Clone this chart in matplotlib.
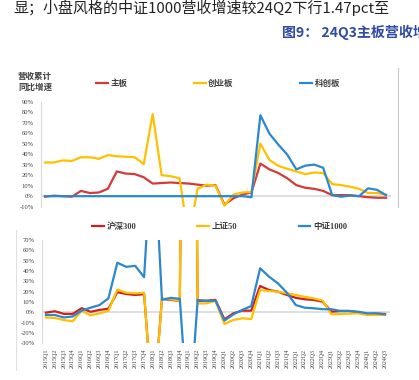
import matplotlib
matplotlib.use("Agg")
import matplotlib.pyplot as plt
from matplotlib.lines import Line2D

plt.rcParams['font.family'] = ['Noto Sans CJK SC', 'DejaVu Sans']

W, H = 419, 380

quarters = [
    "2015Q1", "2015Q2", "2015Q3", "2015Q4", "2016Q1", "2016Q2", "2016Q3", "2016Q4",
    "2017Q1", "2017Q2", "2017Q3", "2017Q4", "2018Q1", "2018Q2", "2018Q3", "2018Q4",
    "2019Q1", "2019Q2", "2019Q3", "2019Q4", "2020Q1", "2020Q2", "2020Q3", "2020Q4",
    "2021Q1", "2021Q2", "2021Q3", "2021Q4", "2022Q1", "2022Q2", "2022Q3", "2022Q4",
    "2023Q1", "2023Q2", "2023Q3", "2023Q4", "2024Q1", "2024Q2", "2024Q3",
]

# 上图：板块营收累计同比（%）
main_board = [-0.5, 0.5, 0, -0.5, 5, 3, 3.5, 7, 23.5, 21.5, 21, 18, 12, 12.5, 13, 12.5,
              12, 11, 10, 10.5, -8, -2, 1.5, 3.5, 31, 25.5, 22, 17, 10.5, 8, 7, 5,
              1, 1, 1, 0, -1, -1.5, -1.5]
gem_board = [32, 32, 34, 33.5, 37, 37, 35.5, 39, 38, 37.5, 37, 30.5, 78, 20, 19, 17,
             -40, 7, 11, 10, -9, 1.5, 3.5, 4, 50, 34.5, 28.8, 26, 23.5, 21, 22.5, 22,
             11.5, 10.5, 9, 7, 3, 3, 1.5]
star_board = [0, 0, 0, 0, 0, 0, 0, 0, 0, 0, 0, 0, 0, 0, 0, 0,
              0, 0, 0, 0, 0, 0, 0, -1, 77, 59.5, 49, 39.5, 25.5, 29, 30, 27,
              1, -0.5, 0.5, 0, 7.5, 6, 1]

# 下图：指数成分营收累计同比（%）
hs300 = [-0.3, 1, -1.5, -1.5, 4, 0.5, 2.3, 3.5, 19.5, 17.7, 16.8, 17.5, -95, 13, 12, 11,
         900, 11, 11.3, 12, -6.8, -1, 1.6, 1.6, 25.5, 21.6, 20, 16.8, 14, 12.6, 12, 10.3,
         0.6, 1.3, 1.3, 0, -1.6, -1.3, -1.6]
sz50 = [-5, -5.5, -7.5, -8.7, 1.6, -3, -1, 1.5, 22, 19, 18.4, 19, -100, 13.5, 12.6, 11,
        1000, 8.5, 8.7, 11, -11.3, -7.4, -5.8, -6.5, 21.6, 20.6, 20, 18.4, 16.8, 15, 13.5, 11.3,
        -2, -1.6, -1.3, -1, -2.6, -2.6, -2.6]
zz1000 = [-2.6, -2.6, -5, -4, 1.6, 4.5, 7, 13.5, 48, 44, 45, 34, 180, 12, 14, 13,
          -110, 12, 11, 11.3, -8, -2, 2.3, 6, 42.6, 34.5, 28, 19, 7, 4.5, 3.9, 3,
          3, 1.3, 1.3, 0.6, -1, -1, -2]

top_labels = ["主板", "创业板", "科创板"]
bottom_labels = ["沪深300", "上证50", "中证1000"]

RED = "#D43A3A"
RED2 = "#D01F1F"
YEL = "#FFC000"
BLUE = "#2B88CF"
GRID = "#D9D9D9"
TXT = "#404040"
serif = ['Liberation Serif', 'Noto Sans CJK SC']


def px(v):
    return v * 0.72


fig = plt.figure(figsize=(W / 100, H / 100), dpi=100)

fig.text(13 / W, 1 - 8 / H, "显；小盘风格的中证1000营收增速较24Q2下行1.47pct至",
         fontsize=px(15), color="#222222", va="center", ha="left")
fig.text(282 / W, 1 - 32 / H, "图9： 24Q3主板营收增",
         fontsize=px(14), color="#2F4BA5", fontweight="bold", va="center", ha="left")

x = list(range(len(quarters)))


def style_axes(ax, ymin, ymax):
    ax.set_xlim(-0.5, len(quarters) - 0.5)
    ax.set_ylim(ymin, ymax)
    for s in ["top", "right", "bottom"]:
        ax.spines[s].set_visible(False)
    ax.spines["left"].set_color(GRID)
    ax.spines["left"].set_linewidth(0.8)
    ax.axhline(0, color=GRID, lw=1.2, zorder=1)
    ax.set_yticks(range(ymin, ymax + 1, 10))
    ax.set_yticklabels([f"{t}%" for t in range(ymin, ymax + 1, 10)],
                       fontsize=px(6.5), family=serif, color=TXT)
    ax.tick_params(axis="y", length=0, pad=5)
    ax.set_facecolor("none")


# 上图
ax1 = fig.add_axes([40.5 / W, (H - 206.7) / H, 350 / W, 105.2 / H])
style_axes(ax1, -10, 90)
ax1.set_xticks([])
l1, = ax1.plot(x, main_board, color=RED, lw=1.6, zorder=2)
l2, = ax1.plot(x, gem_board, color=YEL, lw=1.6, zorder=3)
l3, = ax1.plot(x, star_board, color=BLUE, lw=1.6, zorder=4)

fig.text(18 / W, 1 - 76 / H, "营收累计", fontsize=px(8.5), color=TXT,
         fontweight="bold", va="center")
fig.text(18 / W, 1 - 87 / H, "同比增速", fontsize=px(8.5), color=TXT,
         fontweight="bold", va="center")
fig.legend([l1, l2, l3], top_labels, loc="center left",
           bbox_to_anchor=(96 / W, 1 - 83 / H), ncol=3, frameon=False,
           prop={"size": px(8.5), "weight": "bold"}, labelcolor=TXT,
           handlelength=1.4, handletextpad=0.3, columnspacing=7.8,
           borderpad=0, borderaxespad=0)

# 下图
ax2 = fig.add_axes([41.5 / W, (H - 343.3) / H, 348 / W, 103.3 / H])
style_axes(ax2, -30, 70)
ax2.set_xticks(x)
ax2.set_xticklabels(quarters, rotation=90, fontsize=px(6), family=serif, color=TXT)
ax2.tick_params(axis="x", length=0, pad=4)
m1, = ax2.plot(x, hs300, color=RED2, lw=1.6, zorder=2)
m2, = ax2.plot(x, sz50, color=YEL, lw=1.6, zorder=3)
m3, = ax2.plot(x, zz1000, color=BLUE, lw=1.6, zorder=4)

fig.legend([m1, m2, m3], bottom_labels, loc="center left",
           bbox_to_anchor=(92 / W, 1 - 227 / H), ncol=3, frameon=False,
           prop={"size": px(8.5), "weight": "bold", "family": serif}, labelcolor=TXT,
           handlelength=1.4, handletextpad=0.3, columnspacing=7.2,
           borderpad=0, borderaxespad=0)

# 边框线
fig.add_artist(Line2D([398 / W, 398 / W], [1 - 68 / H, 1 - 207 / H], color="#C8C8C8", lw=0.8))
fig.add_artist(Line2D([15.7 / W, 15.7 / W], [1 - 230 / H, 1 - 370 / H], color="#E0E0E0", lw=0.8))

fig.savefig("out.png", dpi=100)
